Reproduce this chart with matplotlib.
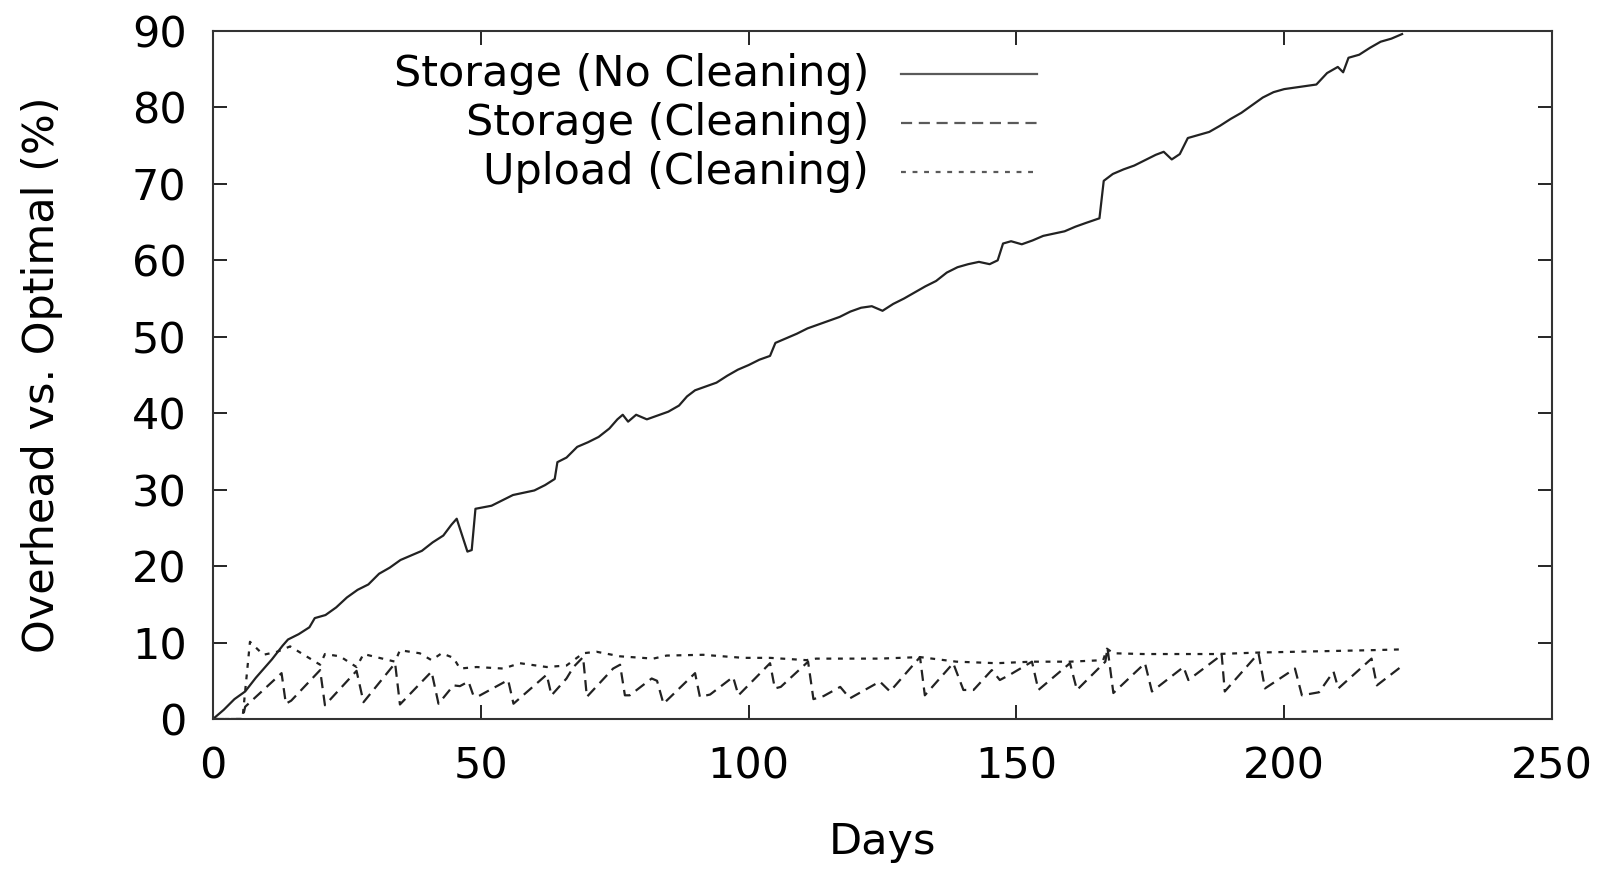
"""Storage and upload overhead against the optimal, per day of the trace"""
import matplotlib
matplotlib.use("Agg")
import matplotlib.pyplot as plt

plt.rcParams['font.family'] = ['DejaVu Sans']

# Storage (No Cleaning)
days_nc = [0, 2, 4, 6, 8, 9, 11, 13, 14, 16, 18, 19, 21, 23, 25, 27, 29, 31, 33,
           35, 37, 39, 41, 43, 44.5, 45.5, 47.5, 48.3, 49, 52, 54, 56, 58, 60,
           62, 63.8, 64.3, 66, 68, 70, 72, 74, 75.5, 76.5, 77.5, 79, 81, 83, 85,
           87, 88.5, 90, 92, 94, 96, 98, 100, 102, 104, 105, 107, 109, 111, 113,
           115, 117, 119, 121, 123, 125, 127, 129, 131, 133, 135, 137, 139, 141,
           143, 145, 146.5, 147.5, 149, 151, 153, 155, 157, 159, 161, 163, 165.5,
           166.3, 168, 170, 172, 174, 176, 177.5, 179, 180.5, 182, 184, 186, 188,
           190, 192, 194, 196, 198, 200, 202, 204, 206, 208, 210, 211, 212, 214,
           216, 218, 220, 222]
storage_nc = [0, 1.2, 2.6, 3.6, 5.4, 6.2, 7.8, 9.6, 10.4, 11.1, 12.0, 13.2, 13.6,
              14.6, 15.9, 16.9, 17.6, 19.0, 19.8, 20.8, 21.4, 22.0, 23.1, 24.0,
              25.4, 26.2, 21.9, 22.1, 27.5, 27.9, 28.6, 29.3, 29.6, 29.9, 30.6,
              31.4, 33.6, 34.2, 35.6, 36.2, 36.9, 38.0, 39.2, 39.8, 38.9, 39.8,
              39.2, 39.7, 40.2, 41.0, 42.2, 43.0, 43.5, 44.0, 44.9, 45.7, 46.3,
              47.0, 47.5, 49.2, 49.8, 50.4, 51.1, 51.6, 52.1, 52.6, 53.3, 53.8,
              54.0, 53.4, 54.3, 55.0, 55.8, 56.6, 57.3, 58.4, 59.1, 59.5, 59.8,
              59.5, 60.0, 62.2, 62.5, 62.1, 62.6, 63.2, 63.5, 63.8, 64.4, 64.9,
              65.5, 70.4, 71.3, 71.9, 72.4, 73.1, 73.8, 74.2, 73.2, 73.9, 76.0,
              76.4, 76.8, 77.6, 78.5, 79.3, 80.3, 81.3, 82.0, 82.4, 82.6, 82.8,
              83.0, 84.5, 85.3, 84.6, 86.5, 86.9, 87.8, 88.6, 89.0, 89.6]

# Storage (Cleaning)
days_c = [0, 5.5, 6.0, 12.8, 13.6, 14.6, 20.0, 20.9, 26.8, 28.1, 34.0, 34.9,
          40.8, 42.1, 44.9, 46.1, 47.7, 48.6, 49.6, 55.1, 56.1, 62.3, 63.2, 66.0,
          67.3, 69.1, 69.8, 74.7, 76.0, 76.9, 77.8, 81.9, 82.9, 84.1, 90.0, 90.9,
          92.8, 97.1, 98.1, 104.0, 104.9, 106.0, 111.1, 112.1, 114.0, 117.1,
          118.9, 124.5, 126.4, 132.0, 132.9, 138.2, 140.1, 142.0, 145.4, 146.9,
          148.8, 152.9, 154.1, 160.0, 161.3, 166.6, 167.0, 168.1, 174.0, 175.3,
          181.2, 182.1, 187.4, 188.3, 188.9, 195.2, 196.4, 202.0, 203.3, 206.5,
          209.2, 210.1, 216.3, 217.3, 222.3]
storage_c = [0, 0, 1.6, 6.0, 2.0, 2.4, 6.4, 1.8, 6.3, 2.2, 7.3, 1.9, 6.2, 2.0,
             4.4, 4.3, 4.9, 3.1, 3.0, 5.1, 2.0, 5.8, 3.1, 5.3, 6.8, 8.1, 2.9,
             6.6, 7.1, 3.1, 3.1, 5.3, 5.0, 2.0, 6.0, 2.9, 3.2, 5.5, 3.1, 7.3,
             4.0, 4.2, 7.5, 2.6, 3.0, 4.2, 2.7, 4.9, 3.6, 8.1, 3.1, 7.3, 3.8,
             3.8, 6.4, 5.1, 5.8, 7.5, 3.8, 7.3, 3.8, 7.5, 9.3, 3.4, 7.3, 3.6,
             6.8, 5.1, 7.9, 8.6, 3.6, 8.6, 4.0, 6.6, 3.1, 3.5, 6.2, 4.0, 7.9,
             4.4, 7.1]

# Upload (Cleaning)
days_up = [0, 5.5, 6.9, 9.4, 12.0, 14.4, 20.0, 20.9, 23.7, 26.8, 28.1, 34.0,
           34.9, 38.6, 40.8, 42.7, 44.9, 46.1, 49.2, 54.2, 57.3, 62.3, 66.0, 69.1,
           71.6, 76.0, 82.2, 84.7, 91.5, 99.0, 104.0, 110.8, 112.6, 124.5, 132.0,
           138.8, 146.3, 152.9, 160.0, 166.2, 166.9, 168.1, 173.7, 187.4, 195.5,
           216.0, 221.6]
upload_c = [0, 0, 10.1, 8.4, 8.8, 9.5, 7.1, 8.5, 8.2, 6.8, 8.5, 7.5, 9.0, 8.6,
            7.7, 8.6, 8.0, 6.6, 6.8, 6.6, 7.3, 6.8, 7.0, 8.6, 8.8, 8.2, 7.9, 8.3,
            8.4, 8.0, 8.0, 7.7, 7.9, 7.9, 8.1, 7.5, 7.3, 7.5, 7.5, 7.7, 9.2, 8.6,
            8.5, 8.5, 8.7, 9.0, 9.1]

labels = ["Storage (No Cleaning)", "Storage (Cleaning)", "Upload (Cleaning)"]
styles = [dict(linestyle='-'),
          dict(linestyle=(0, (5, 3))),
          dict(linestyle=(0, (2.2, 3)))]

FS = 31

fig = plt.figure(figsize=(16.1, 8.71), dpi=100)
ax = fig.add_axes([0.1323, 0.1745, 0.8317, 0.7899])

series = [(days_nc, storage_nc), (days_c, storage_c), (days_up, upload_c)]
for (x, y), st in zip(series, styles):
    ax.plot(x, y, color='#222222', linewidth=1.6, **st)

ax.set_xlim(0, 250)
ax.set_ylim(0, 90)
ax.set_xticks(range(0, 251, 50))
ax.set_yticks(range(0, 91, 10))
ax.tick_params(direction='in', length=10, width=1.2, labelsize=FS,
               top=True, right=True)
ax.tick_params(axis='y', pad=19)
ax.tick_params(axis='x', pad=19)
for sp in ax.spines.values():
    sp.set_linewidth(1.5)
    sp.set_color('#333333')

ax.set_xlabel("Days", fontsize=FS, va='center')
ax.xaxis.set_label_coords(0.5, -0.179)
ax.set_ylabel("Overhead vs. Optimal (%)", fontsize=FS, va='center')
ax.yaxis.set_label_coords(-0.128, 0.5)

# key in the top left, text right-aligned before the line sample
rows = [0.938, 0.866, 0.795]
for lab, st, yy in zip(labels, styles, rows):
    ax.text(0.490, yy, lab, transform=ax.transAxes, ha='right', va='center',
            fontsize=FS)
    ax.plot([0.514, 0.615], [yy, yy], transform=ax.transAxes,
            color='#5a5a5a', linewidth=1.6, **st)

fig.savefig("out.png", dpi=100)
